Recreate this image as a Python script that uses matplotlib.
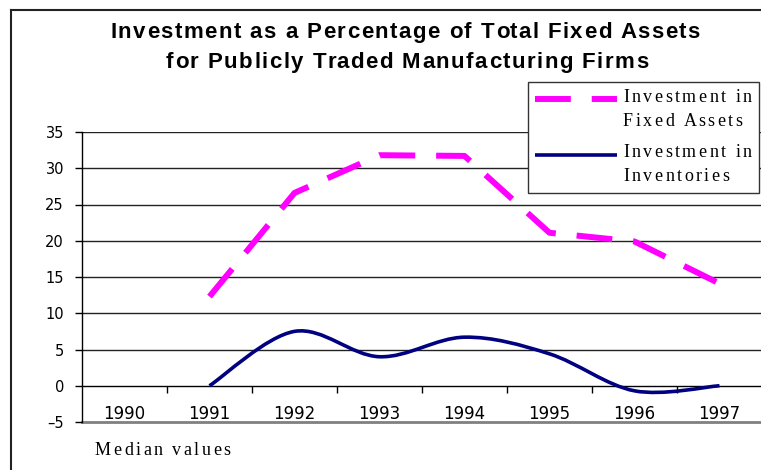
import numpy as np
import matplotlib
matplotlib.use('Agg')
import matplotlib.pyplot as plt
from matplotlib.path import Path
from matplotlib.patches import PathPatch, Rectangle
from matplotlib.lines import Line2D
from matplotlib.font_manager import FontProperties

# data (median values, %)
years = ['1990', '1991', '1992', '1993', '1994', '1995', '1996', '1997']
fixed_years = ['1991', '1992', '1993', '1994', '1995', '1996', '1997']
fixed_assets = [12.3, 26.6, 31.8, 31.7, 21.1, 19.9, 14.1]
inv_years = ['1991', '1992', '1993', '1994', '1995', '1996', '1997']
inventories = [0.0, 7.5, 4.0, 6.7, 4.4, -0.7, 0.0]
yticks = [-5, 0, 5, 10, 15, 20, 25, 30, 35]
ytick_labels = ['\u20135', '0', '5', '10', '15', '20', '25', '30', '35']
title_lines = ['Investment as a Percentage of Total Fixed Assets',
               'for Publicly Traded Manufacturing Firms']
legend_labels = [['Investment in', 'Fixed Assets'],
                 ['Investment in', 'Inventories']]
footnote = 'Median values'

MAGENTA = '#FF00FF'
NAVY = '#000080'

W, H = 761, 470
fig = plt.figure(figsize=(W / 100, H / 100), dpi=100)
renderer = fig.canvas.get_renderer()


def smooth_path(xs, ys):
    """Excel-style smoothed line: Catmull-Rom segments as cubic Beziers."""
    pts = np.column_stack([xs, ys]).astype(float)
    ext = np.vstack([pts[0], pts, pts[-1]])
    verts = [pts[0]]
    codes = [Path.MOVETO]
    for i in range(len(pts) - 1):
        p0, p1, p2, p3 = ext[i], ext[i + 1], ext[i + 2], ext[i + 3]
        verts += [p1 + (p2 - p0) / 6.0, p2 - (p3 - p1) / 6.0, p2]
        codes += [Path.CURVE4] * 3
    return Path(verts, codes)


def text_w(s, fp):
    # width of a prefix, measured against a sentinel so trailing spaces count
    bar = renderer.get_text_width_height_descent('|', fp, ismath=False)[0]
    return renderer.get_text_width_height_descent(s + '|', fp, ismath=False)[0] - bar


def tracked_text(x, y_base, s, fp, track, ha='left', color='black'):
    """Draw text with extra letter spacing; x, y_base in pixels from top-left."""
    total = text_w(s, fp) + track * (len(s) - 1)
    x0 = x - total / 2 if ha == 'center' else x
    for k, ch in enumerate(s):
        if ch == ' ':
            continue
        xk = x0 + text_w(s[:k], fp) + k * track
        fig.text(xk / W, 1 - y_base / H, ch, fontproperties=fp, color=color,
                 ha='left', va='baseline', zorder=10)


ax = fig.add_axes([82 / W, 1 - 422 / H, 680 / W, 290 / H])

xpos = {y: i for i, y in enumerate(years)}
fx = [xpos[y] for y in fixed_years]
ix = [xpos[y] for y in inv_years]

# gridlines
for v in yticks[2:]:
    ax.axhline(v, color='#222222', lw=1, zorder=1)
ax.axhline(-5, color='#808080', lw=2, zorder=1, clip_on=False)

line_fixed, = ax.plot(fx, fixed_assets, color=MAGENTA, lw=4.3,
                      solid_capstyle='butt', dash_capstyle='butt', zorder=3)
line_fixed.set_dashes((6.0, 3.5))

ax.add_patch(PathPatch(smooth_path(ix, inventories), fill=False,
                       edgecolor=NAVY, lw=2.6, capstyle='butt', zorder=4))

ax.set_xlim(-0.5, len(years) - 0.5)
ax.set_ylim(-5, 35)

for s in ['top', 'right']:
    ax.spines[s].set_visible(False)
ax.spines['left'].set_color('black')
ax.spines['left'].set_linewidth(1)
ax.spines['bottom'].set_position(('data', 0))
ax.spines['bottom'].set_color('black')
ax.spines['bottom'].set_linewidth(1)

ax.set_yticks(yticks)
ax.set_yticklabels(ytick_labels, fontfamily='DejaVu Sans', fontsize=10.5)
ax.tick_params(axis='y', length=5, width=1, pad=8)

ax.set_xticks(np.arange(1, len(years)) - 0.5)
ax.set_xticklabels([])
ax.tick_params(axis='x', which='major', direction='out', length=5, width=1)
ax.set_xticks(np.arange(len(years)), minor=True)
ax.set_xticklabels(years, minor=True, fontfamily='DejaVu Sans', fontsize=12)
ax.tick_params(axis='x', which='minor', length=0, pad=14)

# legend box, drawn by hand to match the spaced-out lettering
fig.add_artist(Rectangle((528 / W, 1 - 193 / H), 231 / W, 111 / H,
                         transform=fig.transFigure, facecolor='white',
                         edgecolor='#333333', lw=1, zorder=5))
leg_fixed = Line2D([535 / W, 617 / W], [1 - 99 / H, 1 - 99 / H],
                   transform=fig.transFigure, color=MAGENTA, lw=4.3,
                   dash_capstyle='butt', zorder=6)
leg_fixed.set_dashes((6.0, 3.5))
fig.add_artist(leg_fixed)
fig.add_artist(Line2D([535 / W, 617 / W], [1 - 155 / H, 1 - 155 / H],
                      transform=fig.transFigure, color=NAVY, lw=2.6,
                      solid_capstyle='butt', zorder=6))

serif = FontProperties(family='Liberation Serif', size=13)
baselines = [[101.5, 126], [157, 181]]
for lines, bases in zip(legend_labels, baselines):
    for txt, b in zip(lines, bases):
        tracked_text(623, b, txt, serif, 2.5)

# title and footnote
title_fp = FontProperties(family='Liberation Sans', weight='bold', size=16)
tracked_text(405, 38, title_lines[0], title_fp, 1.5, ha='center')
tracked_text(407, 68, title_lines[1], title_fp, 1.5, ha='center')
tracked_text(95, 455, footnote, serif, 2.5)

# outer chart frame
fig.add_artist(Line2D([11 / W, 1], [1 - 10 / H, 1 - 10 / H], color='#222222', lw=1.5))
fig.add_artist(Line2D([11 / W, 11 / W], [0, 1 - 10 / H], color='#222222', lw=1.5))

fig.savefig('out.png', dpi=100)
